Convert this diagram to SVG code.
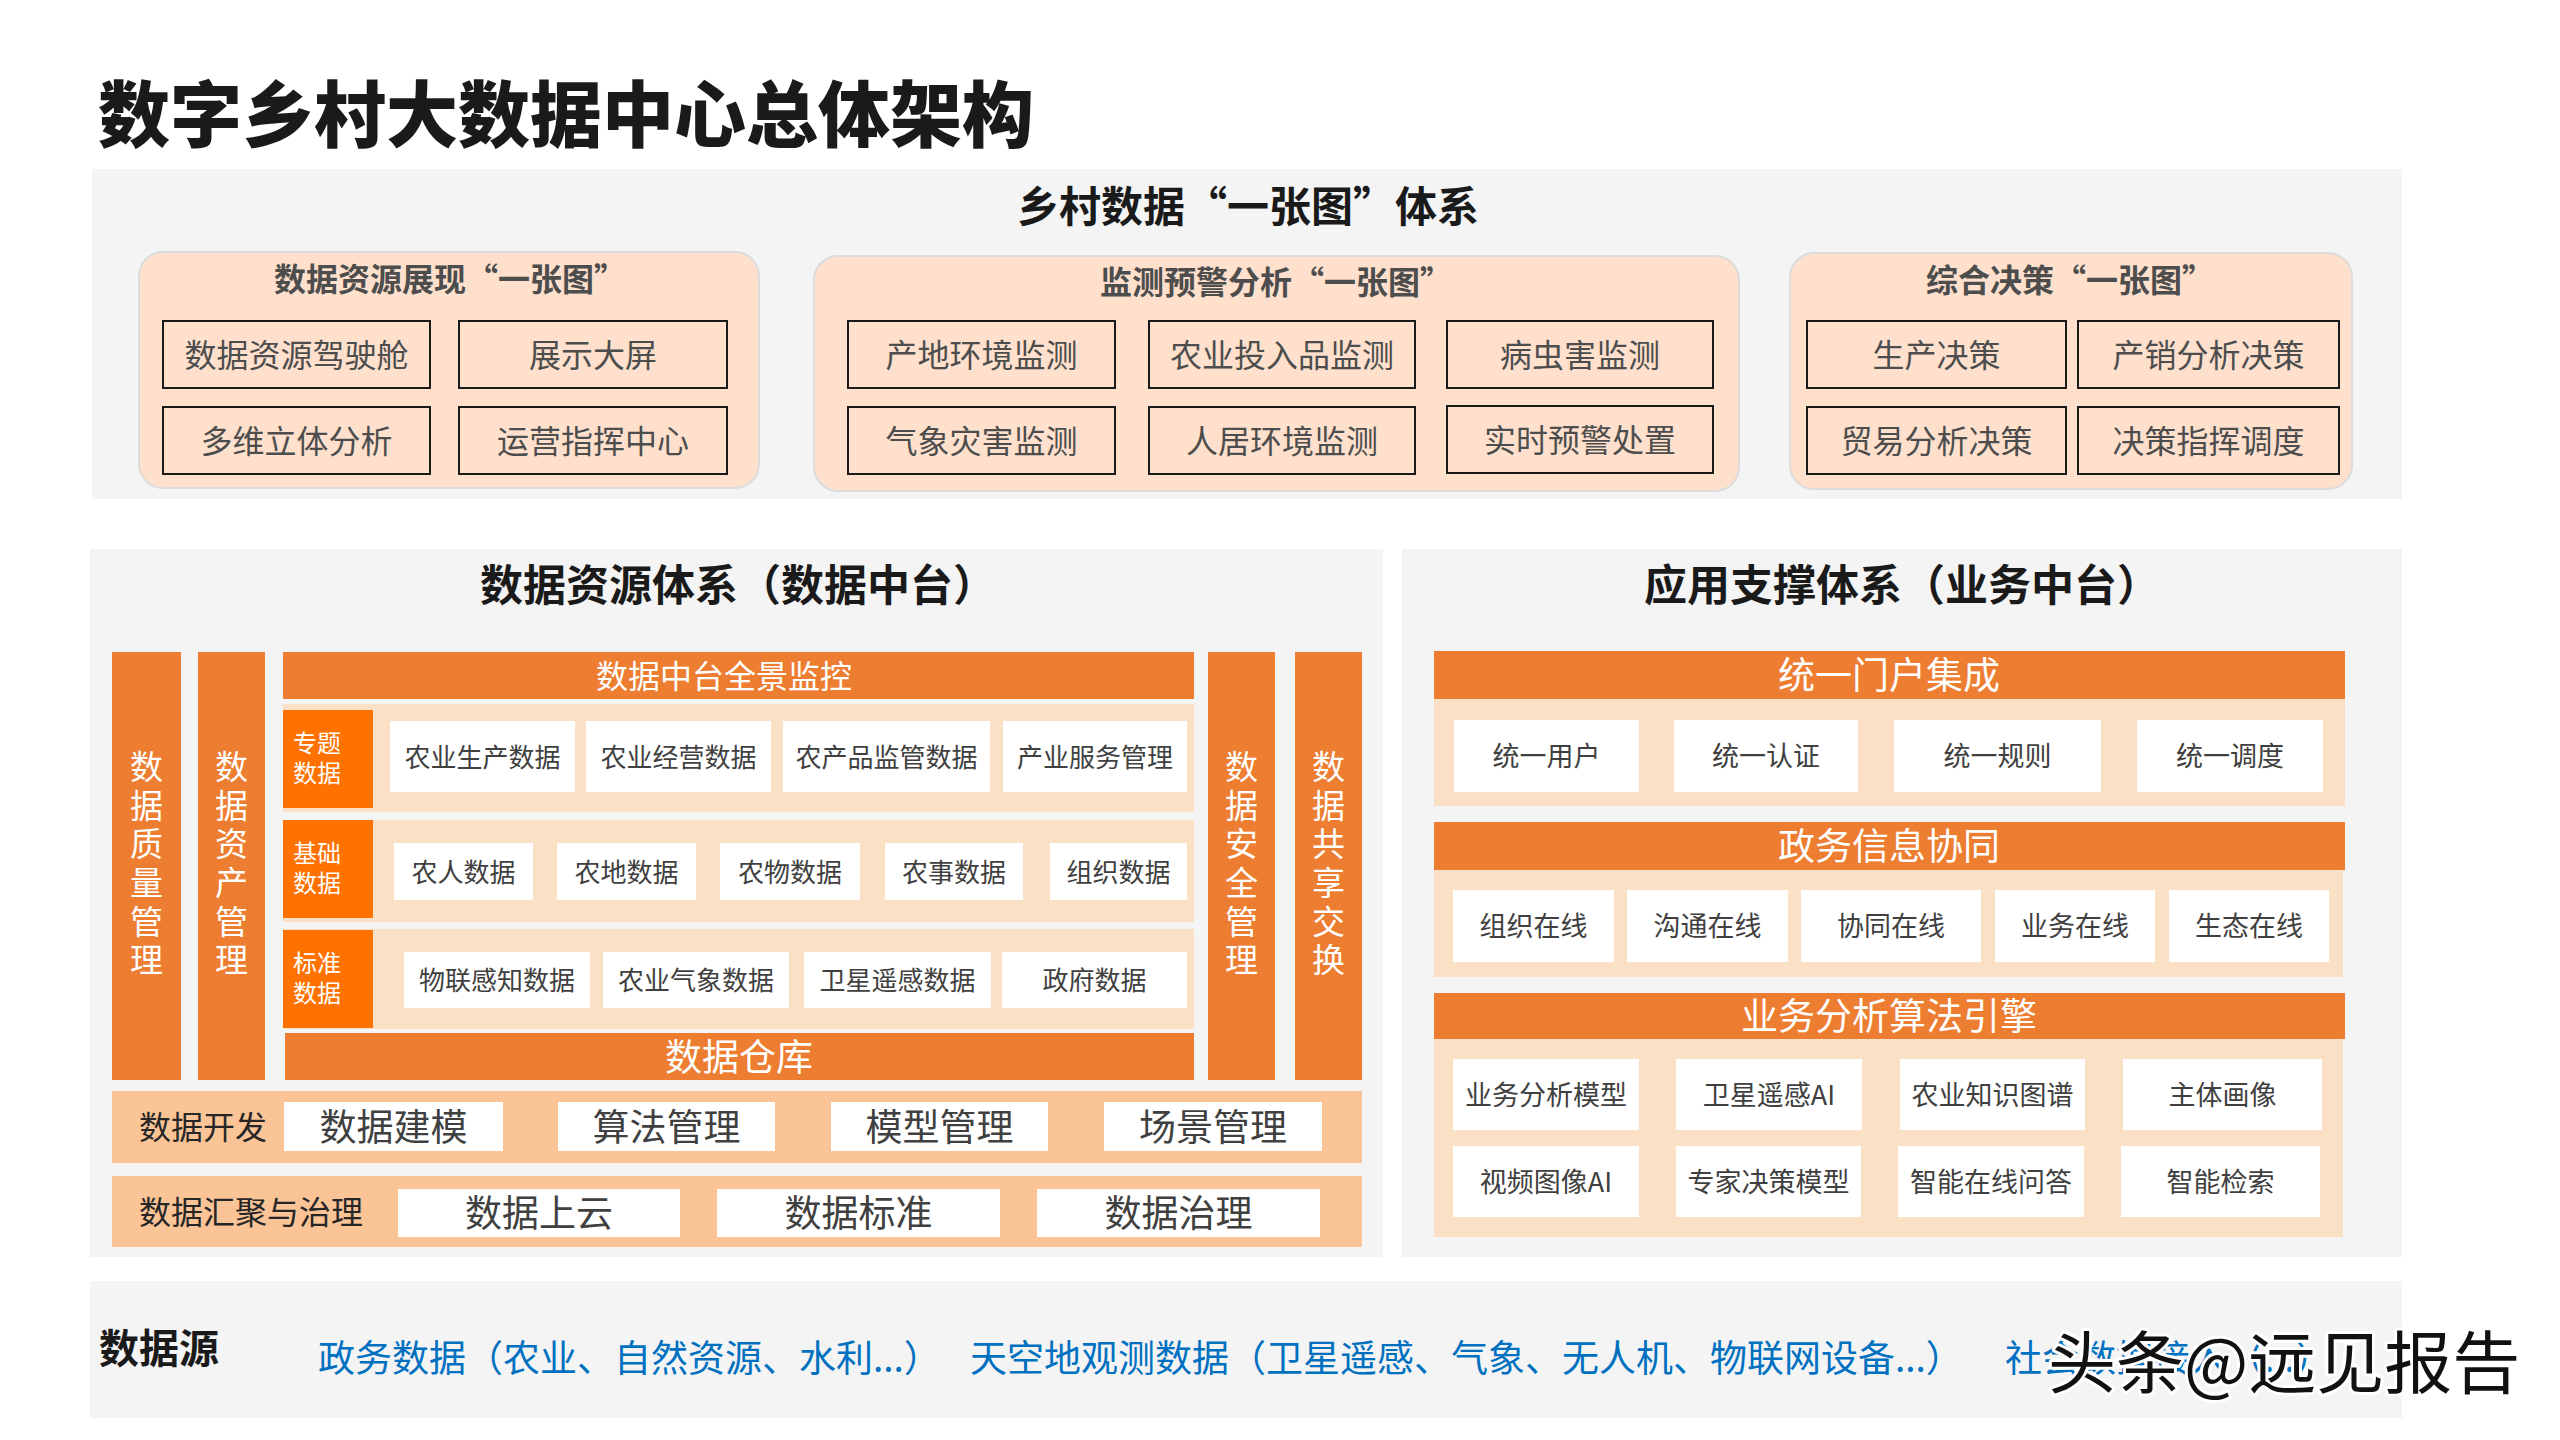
<svg xmlns="http://www.w3.org/2000/svg" width="2560" height="1440" viewBox="0 0 2560 1440">
<style>
text{font-family:"Noto Sans CJK SC","Noto Sans",sans-serif;dominant-baseline:central;transform:translateY(-2px);}
.panel{fill:#f4f4f4;}
.peach{fill:#fee0cc;stroke:#dcdcdc;stroke-width:2;}
.obox{fill:none;stroke:#1a1a1a;stroke-width:2;}
.otx{font-size:32px;fill:#4d4d4d;text-anchor:middle;}
.ptitle{font-size:32px;font-weight:700;fill:#4d4d4d;text-anchor:middle;}
.htitle{font-size:43px;font-weight:700;fill:#1a1a1a;text-anchor:middle;}
.bar{fill:#ed7d31;}
.bartx{fill:#ffffff;text-anchor:middle;}
.rowbg{fill:#fae0c4;}
.lbl{fill:#ff7200;}
.lbltx{font-size:24px;fill:#ffffff;}
.wbox{fill:#ffffff;}
.wtx{font-size:26px;fill:#404040;text-anchor:middle;}
.rtx{font-size:27px;fill:#404040;text-anchor:middle;}
.vtx{font-size:33px;fill:#ffffff;text-anchor:middle;writing-mode:vertical-rl;letter-spacing:5.6px;}
.band{fill:#fbc497;}
.bandlbl{font-size:32px;fill:#262626;}
.btx{font-size:37px;fill:#404040;text-anchor:middle;}
.src{font-size:37px;fill:#0070c0;}
</style>

<text x="98" y="111" style="font-size:72px;font-weight:900;fill:#1a1a1a">数字乡村大数据中心总体架构</text>

<!-- Top panel -->
<g id="top-system">
<rect class="panel" x="92" y="169" width="2310" height="330"/>
<text x="1248" y="205" style="font-size:42px;font-weight:700;fill:#1a1a1a;text-anchor:middle">乡村数据“一张图”体系</text>
</g>

<g id="panel-resource">
<rect class="peach" x="139" y="252" width="620" height="236" rx="24"/>
<text class="ptitle" x="450" y="279">数据资源展现“一张图”</text>
<g id="p1-b1"><rect class="obox" x="163" y="321" width="267" height="67"/><text class="otx" x="296.5" y="355">数据资源驾驶舱</text></g>
<g id="p1-b2"><rect class="obox" x="459" y="321" width="268" height="67"/><text class="otx" x="593" y="355">展示大屏</text></g>
<g id="p1-b3"><rect class="obox" x="163" y="407" width="267" height="67"/><text class="otx" x="296.5" y="441">多维立体分析</text></g>
<g id="p1-b4"><rect class="obox" x="459" y="407" width="268" height="67"/><text class="otx" x="593" y="441">运营指挥中心</text></g>
</g>

<g id="panel-monitor">
<rect class="peach" x="814" y="256" width="925" height="235" rx="24"/>
<text class="ptitle" x="1276" y="282">监测预警分析“一张图”</text>
<g id="p2-b1"><rect class="obox" x="848" y="321" width="267" height="67"/><text class="otx" x="981.5" y="355">产地环境监测</text></g>
<g id="p2-b2"><rect class="obox" x="1149" y="321" width="266" height="67"/><text class="otx" x="1282" y="355">农业投入品监测</text></g>
<g id="p2-b3"><rect class="obox" x="1447" y="321" width="266" height="67"/><text class="otx" x="1580" y="355">病虫害监测</text></g>
<g id="p2-b4"><rect class="obox" x="848" y="407" width="267" height="67"/><text class="otx" x="981.5" y="441">气象灾害监测</text></g>
<g id="p2-b5"><rect class="obox" x="1149" y="407" width="266" height="67"/><text class="otx" x="1282" y="441">人居环境监测</text></g>
<g id="p2-b6"><rect class="obox" x="1447" y="406" width="266" height="67"/><text class="otx" x="1580" y="440">实时预警处置</text></g>
</g>

<g id="panel-decision">
<rect class="peach" x="1790" y="253" width="562" height="236" rx="24"/>
<text class="ptitle" x="2070" y="280">综合决策“一张图”</text>
<g id="p3-b1"><rect class="obox" x="1807" y="321" width="259" height="67"/><text class="otx" x="1936.5" y="355">生产决策</text></g>
<g id="p3-b2"><rect class="obox" x="2078" y="321" width="261" height="67"/><text class="otx" x="2208.5" y="355">产销分析决策</text></g>
<g id="p3-b3"><rect class="obox" x="1807" y="407" width="259" height="67"/><text class="otx" x="1936.5" y="441">贸易分析决策</text></g>
<g id="p3-b4"><rect class="obox" x="2078" y="407" width="261" height="67"/><text class="otx" x="2208.5" y="441">决策指挥调度</text></g>
</g>

<!-- Data resource system -->
<g id="data-platform">
<rect class="panel" x="90" y="549" width="1293" height="708"/>
<text class="htitle" x="738" y="584">数据资源体系（数据中台）</text>

<g id="v-quality"><rect class="bar" x="112" y="652" width="69" height="428"/>
<text class="vtx" x="146.5" y="868">数据质量管理</text></g>
<g id="v-asset"><rect class="bar" x="198" y="652" width="67" height="428"/>
<text class="vtx" x="231.5" y="868">数据资产管理</text></g>
<g id="v-security"><rect class="bar" x="1208" y="652" width="67" height="428"/>
<text class="vtx" x="1241.5" y="868">数据安全管理</text></g>
<g id="v-share"><rect class="bar" x="1295" y="652" width="67" height="428"/>
<text class="vtx" x="1328.5" y="868">数据共享交换</text></g>

<g id="monitor-bar"><rect class="bar" x="283" y="652" width="911" height="47"/><text class="bartx" x="724" y="676" style="font-size:32px">数据中台全景监控</text></g>

<g id="row-topic">
<rect class="rowbg" x="283" y="704" width="911" height="108"/>
<rect class="lbl" x="283" y="710" width="90" height="98"/>
<text class="lbltx" x="293" y="743">专题</text><text class="lbltx" x="293" y="773">数据</text>
<rect class="wbox" x="390" y="721" width="185" height="71"/><text class="wtx" x="482.5" y="757">农业生产数据</text>
<rect class="wbox" x="586" y="721" width="185" height="71"/><text class="wtx" x="678.5" y="757">农业经营数据</text>
<rect class="wbox" x="783" y="721" width="207" height="71"/><text class="wtx" x="886.5" y="757">农产品监管数据</text>
<rect class="wbox" x="1003" y="721" width="184" height="71"/><text class="wtx" x="1095" y="757">产业服务管理</text>
</g>

<g id="row-basic">
<rect class="rowbg" x="283" y="820" width="911" height="102"/>
<rect class="lbl" x="283" y="820" width="90" height="98"/>
<text class="lbltx" x="293" y="853">基础</text><text class="lbltx" x="293" y="883">数据</text>
<rect class="wbox" x="394" y="843" width="139" height="57"/><text class="wtx" x="463.5" y="872">农人数据</text>
<rect class="wbox" x="557" y="843" width="139" height="57"/><text class="wtx" x="626.5" y="872">农地数据</text>
<rect class="wbox" x="720" y="843" width="140" height="57"/><text class="wtx" x="790" y="872">农物数据</text>
<rect class="wbox" x="885" y="843" width="138" height="57"/><text class="wtx" x="954" y="872">农事数据</text>
<rect class="wbox" x="1050" y="843" width="137" height="57"/><text class="wtx" x="1118.5" y="872">组织数据</text>
</g>

<g id="row-standard">
<rect class="rowbg" x="283" y="929" width="911" height="100"/>
<rect class="lbl" x="283" y="930" width="90" height="98"/>
<text class="lbltx" x="293" y="963">标准</text><text class="lbltx" x="293" y="993">数据</text>
<rect class="wbox" x="404" y="952" width="186" height="56"/><text class="wtx" x="497" y="980">物联感知数据</text>
<rect class="wbox" x="603" y="952" width="186" height="56"/><text class="wtx" x="696" y="980">农业气象数据</text>
<rect class="wbox" x="804" y="952" width="187" height="56"/><text class="wtx" x="897.5" y="980">卫星遥感数据</text>
<rect class="wbox" x="1002" y="952" width="185" height="56"/><text class="wtx" x="1094.5" y="980">政府数据</text>
</g>

<g id="warehouse"><rect class="bar" x="285" y="1033" width="909" height="47"/><text class="bartx" x="739" y="1057" style="font-size:37px">数据仓库</text></g>

<g id="band-dev">
<rect class="band" x="112" y="1091" width="1250" height="72"/>
<text class="bandlbl" x="139" y="1127">数据开发</text>
<rect class="wbox" x="284" y="1102" width="219" height="49"/><text class="btx" x="393.5" y="1127">数据建模</text>
<rect class="wbox" x="558" y="1102" width="217" height="49"/><text class="btx" x="666.5" y="1127">算法管理</text>
<rect class="wbox" x="831" y="1102" width="217" height="49"/><text class="btx" x="939.5" y="1127">模型管理</text>
<rect class="wbox" x="1104" y="1102" width="218" height="49"/><text class="btx" x="1213" y="1127">场景管理</text>
</g>

<g id="band-gov">
<rect class="band" x="112" y="1176" width="1250" height="71"/>
<text class="bandlbl" x="139" y="1212">数据汇聚与治理</text>
<rect class="wbox" x="398" y="1189" width="282" height="48"/><text class="btx" x="539" y="1213">数据上云</text>
<rect class="wbox" x="717" y="1189" width="283" height="48"/><text class="btx" x="858.5" y="1213">数据标准</text>
<rect class="wbox" x="1037" y="1189" width="283" height="48"/><text class="btx" x="1178.5" y="1213">数据治理</text>
</g>
</g>

<!-- Application support system -->
<g id="business-platform">
<rect class="panel" x="1402" y="549" width="1000" height="708"/>
<text class="htitle" x="1902" y="584">应用支撑体系（业务中台）</text>

<g id="portal">
<rect class="bar" x="1434" y="651" width="911" height="48"/><text class="bartx" x="1889" y="675" style="font-size:37px">统一门户集成</text>
<rect class="rowbg" x="1434" y="699" width="911" height="107"/>
<rect class="wbox" x="1454" y="720" width="185" height="72"/><text class="rtx" x="1546.5" y="756">统一用户</text>
<rect class="wbox" x="1674" y="720" width="184" height="72"/><text class="rtx" x="1766" y="756">统一认证</text>
<rect class="wbox" x="1894" y="720" width="207" height="72"/><text class="rtx" x="1997.5" y="756">统一规则</text>
<rect class="wbox" x="2137" y="720" width="186" height="72"/><text class="rtx" x="2230" y="756">统一调度</text>
</g>

<g id="collab">
<rect class="bar" x="1434" y="822" width="911" height="48"/><text class="bartx" x="1889" y="846" style="font-size:37px">政务信息协同</text>
<rect class="rowbg" x="1434" y="870" width="909" height="107"/>
<rect class="wbox" x="1453" y="890" width="161" height="72"/><text class="rtx" x="1533.5" y="926">组织在线</text>
<rect class="wbox" x="1627" y="890" width="161" height="72"/><text class="rtx" x="1707.5" y="926">沟通在线</text>
<rect class="wbox" x="1801" y="890" width="180" height="72"/><text class="rtx" x="1891" y="926">协同在线</text>
<rect class="wbox" x="1995" y="890" width="160" height="72"/><text class="rtx" x="2075" y="926">业务在线</text>
<rect class="wbox" x="2169" y="890" width="160" height="72"/><text class="rtx" x="2249" y="926">生态在线</text>
</g>

<g id="engine">
<rect class="bar" x="1434" y="993" width="911" height="46"/><text class="bartx" x="1889" y="1016" style="font-size:37px">业务分析算法引擎</text>
<rect class="rowbg" x="1434" y="1039" width="909" height="198"/>
<rect class="wbox" x="1453" y="1059" width="186" height="71"/><text class="rtx" x="1546" y="1095">业务分析模型</text>
<rect class="wbox" x="1676" y="1059" width="186" height="71"/><text class="rtx" x="1769" y="1095">卫星遥感AI</text>
<rect class="wbox" x="1900" y="1059" width="185" height="71"/><text class="rtx" x="1992.5" y="1095">农业知识图谱</text>
<rect class="wbox" x="2123" y="1059" width="199" height="71"/><text class="rtx" x="2222.5" y="1095">主体画像</text>
<rect class="wbox" x="1453" y="1146" width="186" height="71"/><text class="rtx" x="1546" y="1182">视频图像AI</text>
<rect class="wbox" x="1676" y="1146" width="185" height="71"/><text class="rtx" x="1768.5" y="1182">专家决策模型</text>
<rect class="wbox" x="1898" y="1146" width="186" height="71"/><text class="rtx" x="1991" y="1182">智能在线问答</text>
<rect class="wbox" x="2121" y="1146" width="199" height="71"/><text class="rtx" x="2220.5" y="1182">智能检索</text>
</g>
</g>

<!-- Data sources -->
<g id="data-source">
<rect class="panel" x="90" y="1281" width="2312" height="137"/>
<text x="99" y="1348" style="font-size:40px;font-weight:700;fill:#1a1a1a">数据源</text>
<text class="src" x="318" y="1358">政务数据（农业、自然资源、水利...）</text>
<text class="src" x="970" y="1358">天空地观测数据（卫星遥感、气象、无人机、物联网设备...）</text>
<text class="src" x="2005" y="1358">社会数据接入（...）</text>
</g>

<g id="connectors"/>

<text x="2048" y="1360" style="font-size:68px;fill:#111111;stroke:#ffffff;stroke-width:6px;paint-order:stroke;stroke-linejoin:round">头条@远见报告</text>
</svg>
